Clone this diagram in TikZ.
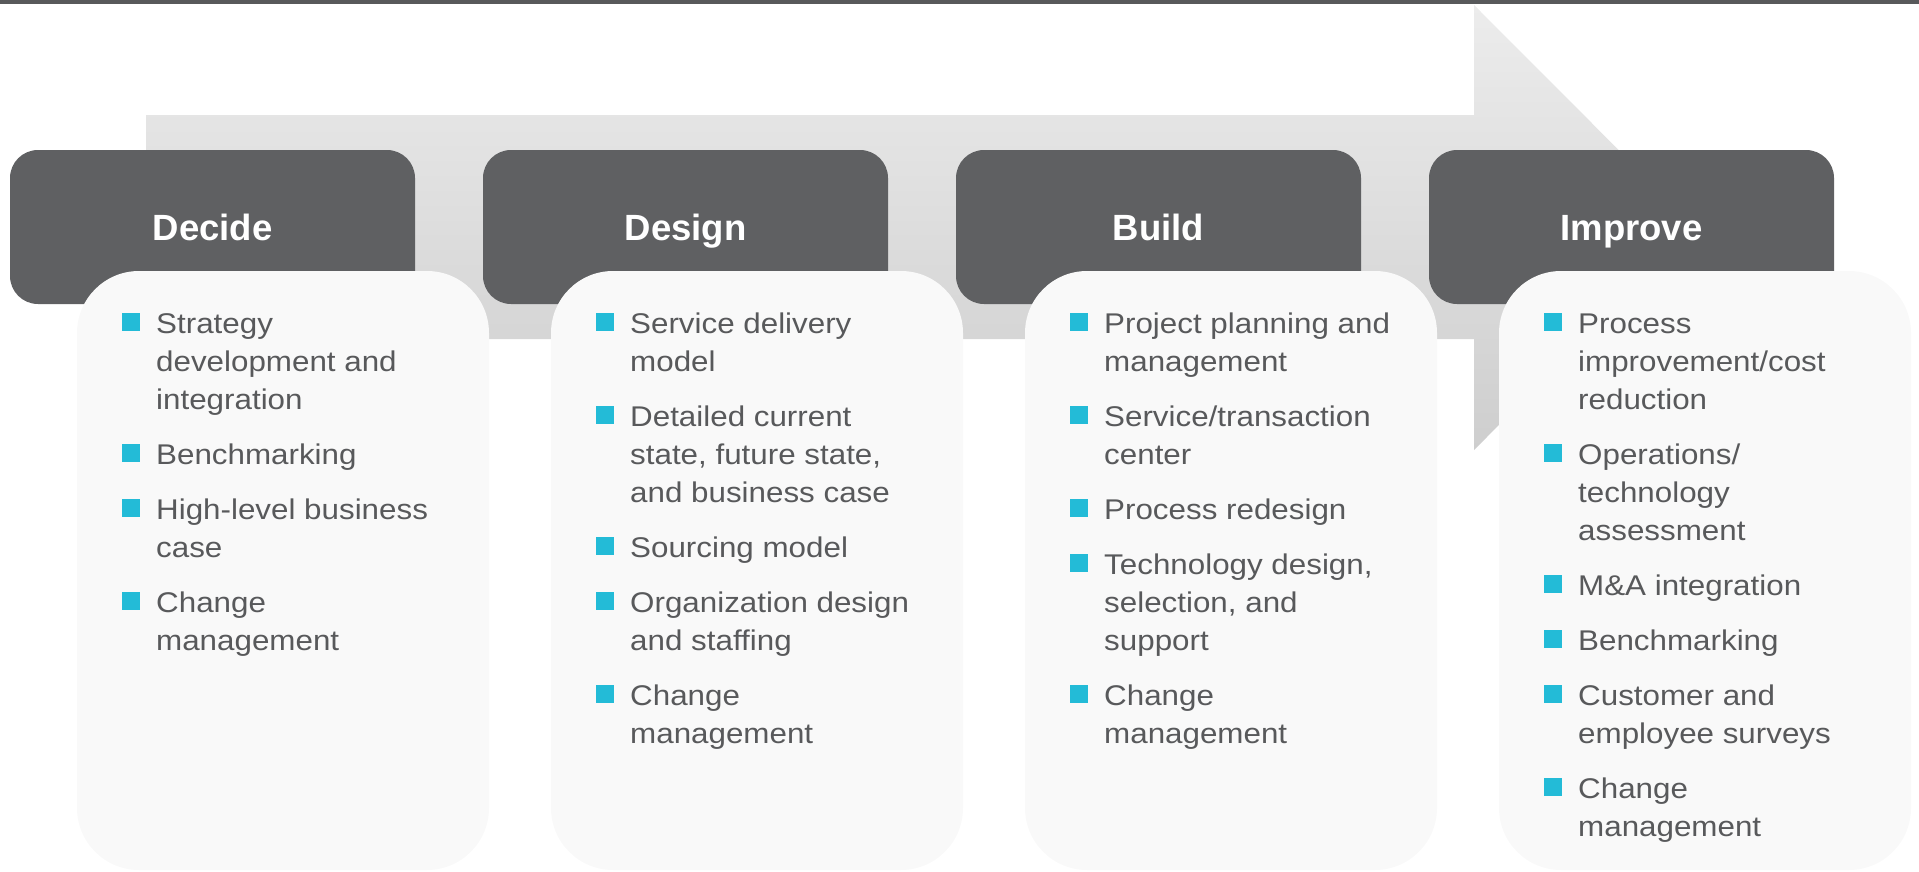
\documentclass[tikz,border=0pt]{standalone}
\usepackage{fontspec}
\setmainfont{Liberation Sans}
\newfontfamily\bodyfont[FakeStretch=1.1]{Liberation Sans}
\definecolor{topbar}{RGB}{88,89,91}
\definecolor{hdrfill}{RGB}{95,96,98}
\definecolor{boxfill}{RGB}{249,249,249}
\definecolor{arrtop}{RGB}{236,236,236}
\definecolor{arrbot}{RGB}{206,206,206}
\definecolor{bul}{RGB}{35,187,215}
\definecolor{txt}{RGB}{88,89,91}
\newcommand\bi{\llap{\textcolor{bul}{\rule[2pt]{18pt}{18pt}}\hspace{16pt}}}
\tikzset{
  hdrbox/.style={fill=hdrfill, rounded corners=28pt, minimum width=405pt, minimum height=154pt,
    inner sep=0pt, text=white, font=\bfseries\fontsize{36.5}{40}\selectfont,
    text height=26pt, text depth=0pt},
  cbox/.style={fill=boxfill, rounded corners=62pt, minimum width=412pt, minimum height=599pt, inner sep=0pt},
  items/.style={anchor=north west, inner sep=0pt, align=left, text=txt,
    font=\bodyfont\fontsize{28.5}{38}\selectfont}
}
\begin{document}
\begin{tikzpicture}[x=1pt,y=-1pt]
\useasboundingbox (0,0) rectangle (1919,871);
% top rule
\fill[topbar] (0,0) rectangle (1919,4);
% big arrow
\shade[top color=arrtop, bottom color=arrbot]
  (146,115) -- (1474,115) -- (1474,5) -- (1696,227.5) -- (1474,450) -- (1474,339) -- (146,339) -- cycle;
% header boxes
\node[hdrbox] (h1) at (212.5,227) {Decide};
\node[hdrbox] (h2) at (685.5,227) {Design};
\node[hdrbox] (h3) at (1158.5,227) {Build};
\node[hdrbox] (h4) at (1631.5,227) {Improve};
% content boxes
\node[cbox] (c1) at (283,570.5) {};
\node[cbox] (c2) at (757,570.5) {};
\node[cbox] (c3) at (1231,570.5) {};
\node[cbox] (c4) at (1705,570.5) {};
% texts
\node[items] (t1) at (156,306.4) {\strut\bi Strategy\\development and\\integration\\[17pt]\bi Benchmarking\\[17pt]\bi High-level business\\case\\[17pt]\bi Change\\management};
\node[items] (t2) at (630,306.4) {\strut\bi Service delivery\\model\\[17pt]\bi Detailed current\\state, future state,\\and business case\\[17pt]\bi Sourcing model\\[17pt]\bi Organization design\\and staffing\\[17pt]\bi Change\\management};
\node[items] (t3) at (1104,306.4) {\strut\bi Project planning and\\management\\[17pt]\bi Service/transaction\\center\\[17pt]\bi Process redesign\\[17pt]\bi Technology design,\\selection, and\\support\\[17pt]\bi Change\\management};
\node[items] (t4) at (1578,306.4) {\strut\bi Process\\improvement/cost\\reduction\\[17pt]\bi Operations/\\technology\\assessment\\[17pt]\bi M\&A integration\\[17pt]\bi Benchmarking\\[17pt]\bi Customer and\\employee surveys\\[17pt]\bi Change\\management};
\end{tikzpicture}
\end{document}
